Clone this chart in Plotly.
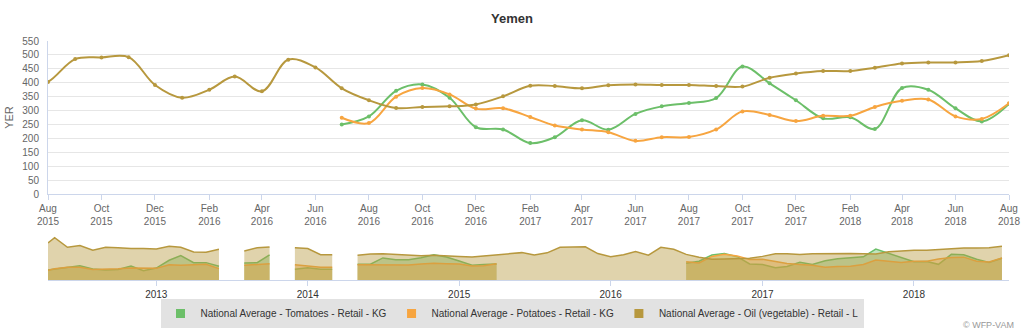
import pandas as pd
import plotly.graph_objects as go

# ---------------- data ----------------
dates = ["2012-04-15"] + [d.strftime("%Y-%m-%d") for d in pd.date_range("2012-05-01", "2018-08-01", freq="MS")]

oil_2012 = [548, 626, 485, 509, 441, 485, 479, 465, 465]
oil_2013 = [460, 500, 485, 416, 412, 456, None, 431, 479, 490, None, 479]
oil_2014 = [465, 376, 376, None, 367, 387, 391, 378, 374, 362, 367, 353]
oil_2015 = [349, 342, 357, 376, 391, 406, 372, 403, 485, 491, 492, 392]
oil_2016 = [346, 375, 422, 369, 483, 455, 380, 337, 309, 313, 315, 322]
oil_2017 = [351, 389, 388, 380, 391, 394, 392, 392, 388, 386, 418, 433]
oil_2018 = [442, 442, 454, 469, 473, 473, 478, 499]

tom_2012 = [150, 165, 185, 215, 165, 150, 160, 210, 140]
tom_2013 = [180, 294, 362, 259, 259, 206, None, 254, 259, 372, None, 162]
tom_2014 = [185, 162, 162, None, 235, 235, 328, 303, 303, 332, 376, 342]
tom_2015 = [284, 220, 230, 240, None, None, None, None, None, None, None, None]
tom_2016 = [None, None, None, None, None, None, 250, 279, 371, 394, 346, 240]
tom_2017 = [232, 183, 204, 265, 231, 288, 315, 327, 345, 458, 398, 337]
tom_2018 = [272, 276, 234, 381, 375, 308, 261, 324]

pot_2012 = [147, 170, 191, 191, 160, 160, 171, 181, 175]
pot_2013 = [175, 229, 220, 229, 235, 171, None, 220, 235, 244, None, 229]
pot_2014 = [215, 191, 191, None, 229, 229, 229, 225, 225, 240, 250, 244]
pot_2015 = [240, 210, 215, 244, None, None, None, None, None, None, None, None]
pot_2016 = [None, None, None, None, None, None, 274, 255, 350, 381, 358, 307]
pot_2017 = [308, 277, 246, 232, 222, 191, 204, 205, 232, 297, 284, 262]
pot_2018 = [281, 281, 313, 335, 340, 279, 270, 326]

oil = oil_2012 + oil_2013 + oil_2014 + oil_2015 + oil_2016 + oil_2017 + oil_2018
tomatoes = tom_2012 + tom_2013 + tom_2014 + tom_2015 + tom_2016 + tom_2017 + tom_2018
potatoes = pot_2012 + pot_2013 + pot_2014 + pot_2015 + pot_2016 + pot_2017 + pot_2018

series_names = [
    "National Average - Tomatoes - Retail - KG",
    "National Average - Potatoes - Retail - KG",
    "National Average - Oil (vegetable) - Retail - L",
]
series_values = [tomatoes, potatoes, oil]
series_colors = ["#6cbf69", "#f7a540", "#b7983e"]
series_fills = ["rgba(108,191,105,0.43)", "rgba(247,165,64,0.43)", "rgba(183,152,62,0.43)"]

main_ticks = pd.date_range("2015-08-01", "2018-08-01", freq="2MS")
main_ticktext = [f"{d:%b}<br>{d:%Y}" for d in main_ticks]
nav_years = ["2013-01-01", "2014-01-01", "2015-01-01", "2016-01-01", "2017-01-01", "2018-01-01"]
nav_yeartext = ["2013", "2014", "2015", "2016", "2017", "2018"]

FONT = "Liberation Sans, Arial, Helvetica, sans-serif"
W, H = 1024, 332


def segments(xs, ys):
    """Split a series at missing values into contiguous runs."""
    runs, cx, cy = [], [], []
    for x, y in zip(xs, ys):
        if y is None:
            if cx:
                runs.append((cx, cy))
            cx, cy = [], []
        else:
            cx.append(x)
            cy.append(y)
    if cx:
        runs.append((cx, cy))
    return runs


fig = go.Figure()

# main chart
for name, vals, col in zip(series_names, series_values, series_colors):
    fig.add_trace(go.Scatter(
        x=dates, y=vals, mode="lines+markers", name=name, showlegend=False,
        line=dict(color=col, width=2, shape="spline", smoothing=1.0),
        marker=dict(color=col, size=4), connectgaps=False,
        xaxis="x", yaxis="y", hoverinfo="x+y+name"))

# navigator (area series, broken at gaps)
for name, vals, col, fc in zip(series_names, series_values, series_colors, series_fills):
    for sx, sy in segments(dates, vals):
        fig.add_trace(go.Scatter(
            x=sx, y=sy, mode="lines", name=name, showlegend=False,
            line=dict(color=col, width=1.5), fill="tozeroy", fillcolor=fc,
            xaxis="x2", yaxis="y2", hoverinfo="skip"))

# legend entries (square symbols)
for name, col in zip(series_names, series_colors):
    fig.add_trace(go.Scatter(
        x=[None], y=[None], mode="markers", name=name,
        marker=dict(symbol="square", size=9, color=col),
        xaxis="x", yaxis="y"))

xdom = [48 / W, 1009 / W]
fig.update_layout(
    width=W, height=H,
    margin=dict(l=0, r=0, t=0, b=0),
    paper_bgcolor="white", plot_bgcolor="white",
    font=dict(family=FONT, size=10, color="#666666"),
    title=dict(text="<b>Yemen</b>", x=0.5, xanchor="center", y=1 - 18 / H, yanchor="middle",
               font=dict(family=FONT, size=13, color="#333333")),
    xaxis=dict(domain=xdom, anchor="y", type="date", range=["2015-08-01", "2018-08-01"],
               tickvals=list(main_ticks), ticktext=main_ticktext,
               ticks="outside", ticklen=5, tickcolor="#ccd6eb", automargin=False,
               showline=True, linecolor="#ccd6eb", linewidth=1, showgrid=False, zeroline=False,
               tickfont=dict(size=10, color="#666666")),
    yaxis=dict(domain=[1 - 194 / H, 1 - 41 / H], anchor="x", range=[0, 550], dtick=50,
               showgrid=True, gridcolor="#e6e6e6", zeroline=False, automargin=False,
               showline=True, linecolor="#ccd6eb", linewidth=1,
               ticks="outside", ticklen=6, tickcolor="rgba(0,0,0,0)",
               tickfont=dict(size=10, color="#666666"),
               title=dict(text="YER", font=dict(size=11, color="#666666"), standoff=6)),
    xaxis2=dict(domain=xdom, anchor="y2", type="date", range=["2012-04-15", "2018-08-18"],
                tickvals=nav_years, ticktext=nav_yeartext, automargin=False,
                ticks="outside", ticklen=5, tickcolor="#ccd6eb",
                showline=True, linecolor="#ccd6eb", linewidth=1, showgrid=False, zeroline=False,
                tickfont=dict(size=10, color="#333333")),
    yaxis2=dict(domain=[1 - 280.3 / H, 1 - 236 / H], anchor="x2", range=[0, 650], visible=False,
                automargin=False),
    legend=dict(orientation="h", x=0.5, xanchor="center", y=1 - 313.5 / H, yanchor="middle",
                bgcolor="#e2e2e2", font=dict(family=FONT, size=10, color="#333333"),
                borderwidth=0),
    annotations=[dict(text="© WFP-VAM", x=1016 / W, xanchor="right", y=1 - 325 / H, yanchor="middle",
                      xref="paper", yref="paper", showarrow=False,
                      font=dict(family=FONT, size=9, color="#999999"))],
    showlegend=True,
)

fig.write_html("out.html")
